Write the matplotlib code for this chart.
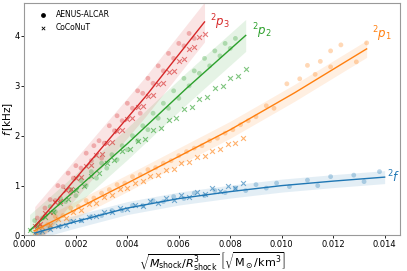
import numpy as np
import matplotlib
matplotlib.use('Agg')
from matplotlib import pyplot as plt

# ---- fit lines ----
p3_fit_x = [0.0004, 0.0025, 0.0047, 0.0070]
p3_fit_f = [0.18, 1.45, 2.78, 4.28]
p2_fit_x = [0.0002, 0.0020, 0.0040, 0.0063, 0.0086]
p2_fit_f = [0.10, 0.92, 1.84, 2.95, 4.01]
p1_fit_x = [0.0004, 0.0040, 0.0080, 0.0105, 0.0133]
p1_fit_f = [0.10, 1.05, 2.12, 2.86, 3.74]
f_fit_x = [0.0004, 0.0020, 0.0040, 0.0060, 0.0080, 0.0100, 0.0120, 0.0140]
f_fit_f = [0.05, 0.28, 0.55, 0.74, 0.88, 1.00, 1.09, 1.17]

# half widths of the shaded bands [kHz]
band_width = {'p3': 0.40, 'p2': 0.32, 'p1': 0.17, 'f': 0.13}

# ---- AENUS-ALCAR (circles) ----
p3_aen_x = [0.0005, 0.0008, 0.0010, 0.0012, 0.0013, 0.0015, 0.0017, 0.0018, 0.0019, 0.0020,
            0.0022, 0.0024, 0.0026, 0.0027, 0.0029, 0.0030, 0.0031, 0.0033, 0.0035, 0.0036,
            0.0038, 0.0040, 0.0042, 0.0044, 0.0045, 0.0046, 0.0048, 0.0050, 0.0052, 0.0054,
            0.0056, 0.0058, 0.0060, 0.0062, 0.0064, 0.0066]
p3_aen_f = [0.35, 0.55, 0.72, 0.70, 1.00, 0.98, 1.25, 0.85, 1.15, 1.40,
            1.35, 1.65, 1.50, 1.80, 1.90, 1.55, 1.85, 2.20, 2.10, 2.40,
            2.30, 2.65, 2.55, 2.90, 2.45, 2.85, 3.15, 3.05, 3.40, 3.30,
            3.65, 3.55, 3.85, 3.80, 4.05, 3.95]

p2_aen_x = [0.0004, 0.0007, 0.0010, 0.0012, 0.0014, 0.0016, 0.0018, 0.0020, 0.0022, 0.0024,
            0.0026, 0.0028, 0.0030, 0.0032, 0.0034, 0.0036, 0.0038, 0.0040, 0.0042, 0.0044,
            0.0046, 0.0048, 0.0050, 0.0052, 0.0054, 0.0056, 0.0058, 0.0060, 0.0062, 0.0064,
            0.0066, 0.0068, 0.0070, 0.0072, 0.0074, 0.0076, 0.0078, 0.0080, 0.0082]
p2_aen_f = [0.30, 0.35, 0.58, 0.48, 0.75, 0.68, 0.92, 0.80, 1.10, 1.00,
            1.28, 1.15, 1.45, 1.35, 1.62, 1.52, 1.80, 1.72, 2.00, 1.90,
            2.20, 2.12, 2.45, 2.35, 2.65, 2.55, 2.90, 2.75, 3.15, 3.00,
            3.30, 3.25, 3.55, 3.40, 3.70, 3.60, 3.85, 3.75, 3.95]

p1_aen_x = [0.0006, 0.0009, 0.0012, 0.0015, 0.0018, 0.0021, 0.0024, 0.0027, 0.0030, 0.0033,
            0.0036, 0.0039, 0.0042, 0.0045, 0.0048, 0.0051, 0.0054, 0.0057, 0.0060, 0.0063,
            0.0066, 0.0069, 0.0072, 0.0075, 0.0078, 0.0081, 0.0084, 0.0087, 0.0090, 0.0094,
            0.0097, 0.0102, 0.0107, 0.0110, 0.0113, 0.0115, 0.0119, 0.0119, 0.0123, 0.0129,
            0.0133]
p1_aen_f = [0.20, 0.22, 0.38, 0.40, 0.55, 0.58, 0.70, 0.75, 0.85, 0.92,
            1.02, 1.05, 1.18, 1.22, 1.32, 1.36, 1.45, 1.50, 1.60, 1.68,
            1.75, 1.80, 1.90, 1.95, 2.05, 2.12, 2.22, 2.30, 2.38, 2.60,
            2.55, 3.04, 3.14, 3.41, 3.23, 3.49, 3.70, 3.38, 3.82, 3.48,
            3.86]

f_aen_x = [0.0006, 0.0010, 0.0014, 0.0018, 0.0022, 0.0026, 0.0030, 0.0034, 0.0038, 0.0042,
           0.0046, 0.0050, 0.0054, 0.0058, 0.0062, 0.0066, 0.0070, 0.0074, 0.0078, 0.0082,
           0.0086, 0.0090, 0.0094, 0.0098, 0.0103, 0.0110, 0.0114, 0.0119, 0.0128, 0.0132,
           0.0138]
f_aen_f = [0.05, 0.15, 0.18, 0.28, 0.30, 0.38, 0.40, 0.50, 0.50, 0.60,
           0.60, 0.70, 0.68, 0.78, 0.74, 0.85, 0.80, 0.90, 0.86, 0.95,
           0.90, 1.02, 0.95, 1.05, 0.98, 1.11, 1.00, 1.18, 1.21, 1.08,
           1.28]

# ---- CoCoNuT (crosses) ----
p3_coc_x = [0.0004, 0.0006, 0.0008, 0.0010, 0.0012, 0.0014, 0.0016, 0.0018, 0.0020, 0.0022,
            0.0024, 0.0026, 0.0028, 0.0030, 0.0032, 0.0034, 0.0036, 0.0038, 0.0040, 0.0042,
            0.0044, 0.0046, 0.0048, 0.0050, 0.0052, 0.0054, 0.0056, 0.0058, 0.0060, 0.0062,
            0.0064, 0.0066, 0.0068, 0.0070]
p3_coc_f = [0.20, 0.23, 0.45, 0.47, 0.68, 0.70, 0.92, 0.94, 1.15, 1.17,
            1.39, 1.41, 1.62, 1.64, 1.86, 1.88, 2.10, 2.12, 2.33, 2.35,
            2.57, 2.59, 2.80, 2.82, 3.03, 3.06, 3.27, 3.30, 3.50, 3.53,
            3.74, 3.77, 3.97, 4.04]

p2_coc_x = [0.0002, 0.0005, 0.0008, 0.0011, 0.0014, 0.0017, 0.0020, 0.0023, 0.0026, 0.0029,
            0.0032, 0.0035, 0.0038, 0.0041, 0.0044, 0.0047, 0.0050, 0.0053, 0.0056, 0.0059,
            0.0062, 0.0065, 0.0068, 0.0071, 0.0074, 0.0077, 0.0080, 0.0083, 0.0086]
p2_coc_f = [0.12, 0.20, 0.38, 0.47, 0.66, 0.73, 0.92, 0.99, 1.19, 1.26,
            1.45, 1.52, 1.69, 1.73, 1.90, 1.94, 2.11, 2.15, 2.32, 2.36,
            2.53, 2.57, 2.74, 2.78, 2.95, 2.99, 3.16, 3.20, 3.34]

p1_coc_x = [0.0004, 0.0007, 0.0010, 0.0013, 0.0016, 0.0019, 0.0022, 0.0025, 0.0028, 0.0031,
            0.0034, 0.0037, 0.0040, 0.0043, 0.0046, 0.0049, 0.0052, 0.0055, 0.0058, 0.0061,
            0.0064, 0.0067, 0.0070, 0.0073, 0.0076, 0.0079, 0.0082, 0.0085]
p1_coc_f = [0.08, 0.18, 0.21, 0.33, 0.36, 0.48, 0.51, 0.63, 0.66, 0.78,
            0.81, 0.93, 0.96, 1.06, 1.09, 1.19, 1.22, 1.32, 1.34, 1.45,
            1.47, 1.58, 1.60, 1.70, 1.73, 1.83, 1.86, 1.95]

f_coc_x = [0.0004, 0.0007, 0.0010, 0.0013, 0.0016, 0.0019, 0.0022, 0.0025, 0.0028, 0.0031,
           0.0034, 0.0037, 0.0040, 0.0043, 0.0046, 0.0049, 0.0052, 0.0055, 0.0058, 0.0061,
           0.0064, 0.0067, 0.0070, 0.0073, 0.0076, 0.0079, 0.0082, 0.0085]
f_coc_f = [0.04, 0.10, 0.13, 0.20, 0.21, 0.29, 0.31, 0.38, 0.39, 0.47,
           0.47, 0.55, 0.54, 0.62, 0.60, 0.69, 0.66, 0.76, 0.72, 0.82,
           0.78, 0.88, 0.84, 0.95, 0.90, 1.00, 0.96, 1.06]

modes = [
    ('f', r'$^2f$', 'tab:blue', f_fit_x, f_fit_f, f_aen_x, f_aen_f, f_coc_x, f_coc_f, (2, 0)),
    ('p1', r'$^2p_1$', 'tab:orange', p1_fit_x, p1_fit_f, p1_aen_x, p1_aen_f, p1_coc_x, p1_coc_f, (5, 15)),
    ('p2', r'$^2p_2$', 'tab:green', p2_fit_x, p2_fit_f, p2_aen_x, p2_aen_f, p2_coc_x, p2_coc_f, (6, 4)),
    ('p3', r'$^2p_3$', 'tab:red', p3_fit_x, p3_fit_f, p3_aen_x, p3_aen_f, p3_coc_x, p3_coc_f, (5, 0)),
]

fig = plt.figure(figsize=(4.07, 2.71), dpi=100)
ax = fig.add_axes([0.060, 0.131, 0.923, 0.858])

for key, label, col, fx, ff, ax_, af, cx, cf, off in modes:
    fx = np.array(fx)
    ff = np.array(ff)
    w = band_width[key]
    ax.fill_between(fx, ff - w, ff + w, color=col, alpha=0.12, lw=0, zorder=1)
    ax.scatter(ax_, af, s=12, color=col, alpha=0.3, edgecolors='none', zorder=2)
    ax.scatter(cx, cf, s=12, color=col, alpha=0.6, marker='x', linewidths=0.8, zorder=2)
    ax.plot(fx, ff, color=col, lw=1.0, zorder=3)
    ax.annotate(label, (fx[-1], ff[-1]), xytext=off, textcoords='offset pixels',
                color=col, fontsize=8.5, ha='left', va='center')

# legend with black markers
ax.scatter([], [], s=6, color='k', marker='o', label='AENUS-ALCAR')
ax.scatter([], [], s=6, color='k', marker='x', linewidths=0.6, label='CoCoNuT')
ax.legend(loc='upper left', frameon=False, fontsize=5.5, handletextpad=0.7,
          borderaxespad=0.5, labelspacing=0.5, bbox_to_anchor=(0.01, 1.0))

ax.set_xlim(0, 0.0146)
ax.set_ylim(0, 4.66)
ax.set_xticks([0.000, 0.002, 0.004, 0.006, 0.008, 0.010, 0.012, 0.014])
ax.set_xticklabels(['0.000', '0.002', '0.004', '0.006', '0.008', '0.010', '0.012', '0.014'])
ax.set_yticks([0, 1, 2, 3, 4])
ax.tick_params(labelsize=6, length=2, width=0.6, pad=1.5)

for s in ax.spines.values():
    s.set_color('#999999')
    s.set_linewidth(0.8)

ax.set_xlabel(r'$\sqrt{M_\mathrm{shock}/R^3_\mathrm{shock}}\ \left[\sqrt{\mathrm{M}_\odot/\mathrm{km}^3}\right]$',
              fontsize=8)
ax.set_ylabel(r'$f\,[\mathrm{kHz}]$', fontsize=7.5)
ax.xaxis.set_label_coords(0.5, -0.062)
ax.yaxis.set_label_coords(-0.026, 0.5)

fig.savefig('out.png', dpi=100)
